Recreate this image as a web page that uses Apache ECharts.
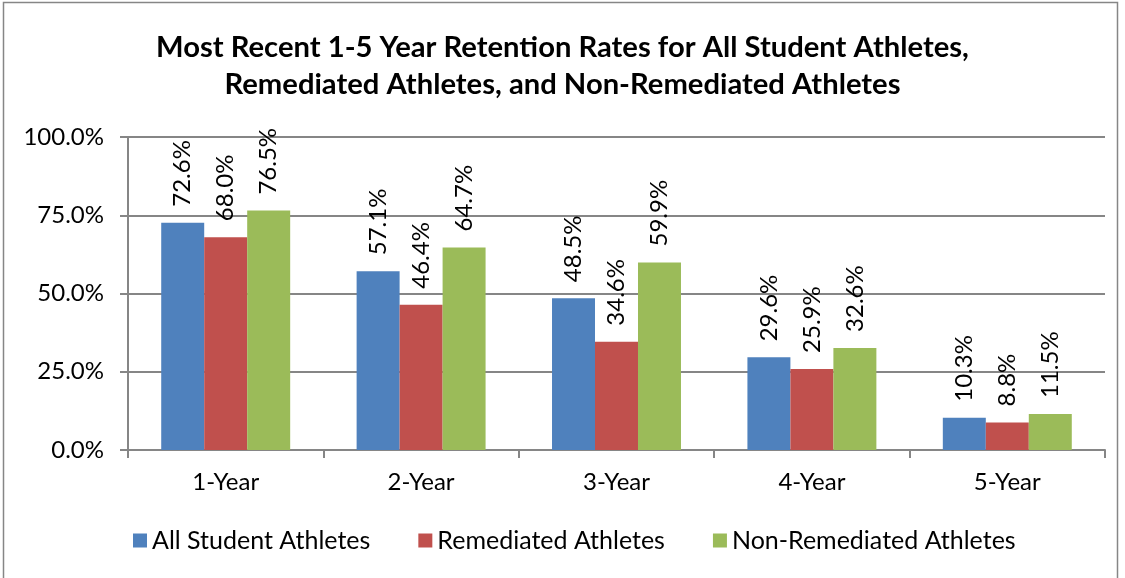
<!DOCTYPE html>
<html>
<head>
<meta charset="utf-8">
<script src="https://cdn.jsdelivr.net/npm/echarts@6/dist/echarts.min.js"></script>
<style>
  html, body { margin: 0; padding: 0; background: #fff; }
  #chart { width: 1125px; height: 578px; }
</style>
</head>
<body>
<div id="chart"></div>
<script>
// categories and values
var categories = ['1-Year', '2-Year', '3-Year', '4-Year', '5-Year'];
var seriesNames = ['All Student Athletes', 'Remediated Athletes', 'Non-Remediated Athletes'];
var allAthletes = [72.6, 57.1, 48.5, 29.6, 10.3];
var remediated = [68.0, 46.4, 34.6, 25.9, 8.8];
var nonRemediated = [76.5, 64.7, 59.9, 32.6, 11.5];
var colors = ['#4F81BD', '#C0504D', '#9BBB59'];

var FONT = 'Lato';

function makeSeries(name, values, color) {
    return {
        name: name,
        type: 'bar',
        data: values,
        barGap: '0%',
        barCategoryGap: '34%',
        itemStyle: { color: color },
        label: {
            show: true,
            position: 'top',
            rotate: 90,
            align: 'left',
            verticalAlign: 'middle',
            distance: 16,
            fontFamily: FONT,
            fontSize: 24,
            color: '#000',
            formatter: function (p) { return p.value.toFixed(1) + '%'; }
        }
    };
}

var myChart = echarts.init(document.getElementById('chart'));
var option = {
    animation: false,
    title: {
        text: 'Most Recent 1-5 Year Retention Rates for All Student Athletes,\nRemediated Athletes, and Non-Remediated Athletes',
        left: 'center',
        top: 24,
        padding: [5, 5, 5, 16],
        textStyle: {
            fontFamily: FONT,
            fontWeight: 'bold',
            fontSize: 29.2,
            lineHeight: 37,
            color: '#000'
        }
    },
    graphic: [{
        type: 'rect',
        shape: { x: 3.5, y: 2.5, width: 1114, height: 590 },
        style: { fill: null, stroke: '#868686', lineWidth: 1.5 },
        silent: true
    }],
    legend: {
        data: seriesNames,
        left: 128,
        top: 523,
        icon: 'rect',
        itemWidth: 14,
        itemHeight: 14,
        itemGap: 48,
        textStyle: { fontFamily: FONT, fontSize: 25, color: '#000' }
    },
    grid: { left: 128, right: 20, top: 137, bottom: 128 },
    xAxis: {
        type: 'category',
        data: categories,
        axisLine: { lineStyle: { color: '#868686', width: 2 } },
        axisTick: { show: true, length: 8, lineStyle: { color: '#868686', width: 2 } },
        axisLabel: { margin: 20, fontFamily: FONT, fontSize: 24, color: '#000' }
    },
    yAxis: {
        type: 'value',
        min: 0,
        max: 100,
        interval: 25,
        axisLine: { show: true, lineStyle: { color: '#868686', width: 2 } },
        axisTick: { show: true, length: 8, lineStyle: { color: '#868686', width: 2 } },
        splitLine: { lineStyle: { color: '#868686', width: 2 } },
        axisLabel: {
            margin: 24,
            fontFamily: FONT,
            fontSize: 24,
            color: '#000',
            formatter: function (v) { return v.toFixed(1) + '%'; }
        }
    },
    series: [
        makeSeries(seriesNames[0], allAthletes, colors[0]),
        makeSeries(seriesNames[1], remediated, colors[1]),
        makeSeries(seriesNames[2], nonRemediated, colors[2])
    ]
};
myChart.setOption(option);
</script>
</body>
</html>
